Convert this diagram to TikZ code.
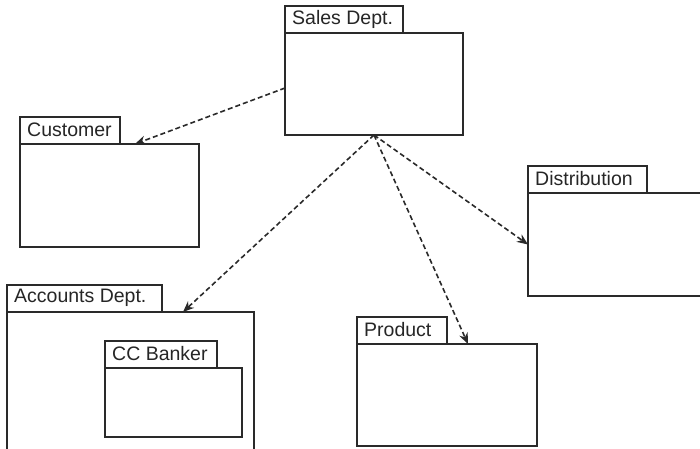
\documentclass[tikz,border=0pt]{standalone}
\usepackage{fontspec}
\setmainfont{Liberation Sans}
\usetikzlibrary{arrows.meta,calc}
\definecolor{ink}{HTML}{2A2A2A}
\tikzset{
  pkg/.style={draw=ink, line width=1.6pt, fill=white, rectangle, inner sep=0pt, outer sep=0pt, anchor=north west},
  pkglabel/.style={anchor=west, inner sep=0pt, text=black!85, font=\fontsize{19.5}{21}\selectfont},
  dep/.style={draw=ink, line width=1.6pt, dash pattern=on 5pt off 3pt, -{Stealth[length=11pt,width=9pt]}}
}
% package: name, left, top of tab, tab width, body width, body height, label
\newcommand{\pkgbox}[7]{%
  \node[pkg, minimum width=#4pt, minimum height=27pt] (#1tab) at (#2,#3) {};
  \node[pkglabel] (#1lbl) at ([xshift=7pt,yshift=0.5pt]#1tab.west) {#7};
  \node[pkg, minimum width=#5pt, minimum height=#6pt] (#1) at ($(#2,#3)+(0,27)$) {};
}
\begin{document}
\begin{tikzpicture}[x=1pt,y=-1pt]
\useasboundingbox (0,0) rectangle (700,448);
\pkgbox{sales}{285}{6}{118}{178}{102}{Sales Dept.}
\pkgbox{cust}{20}{117}{100}{179}{103}{Customer}
\pkgbox{dist}{528}{166}{119}{190}{103}{Distribution}
\pkgbox{acc}{7}{285}{155}{247}{150}{Accounts Dept.}
\pkgbox{cc}{105}{341}{112}{137}{69}{CC Banker}
\pkgbox{prod}{357}{317}{90}{180}{102}{Product}
\draw[dep] ([yshift=-4pt]sales.west) -- ([xshift=115pt]cust.north west);
\draw[dep] (sales.south) -- ([xshift=176pt]acc.north west);
\draw[dep] (sales.south) -- ([xshift=111pt]prod.north west);
\draw[dep] (sales.south) -- (dist.west);
\end{tikzpicture}
\end{document}
